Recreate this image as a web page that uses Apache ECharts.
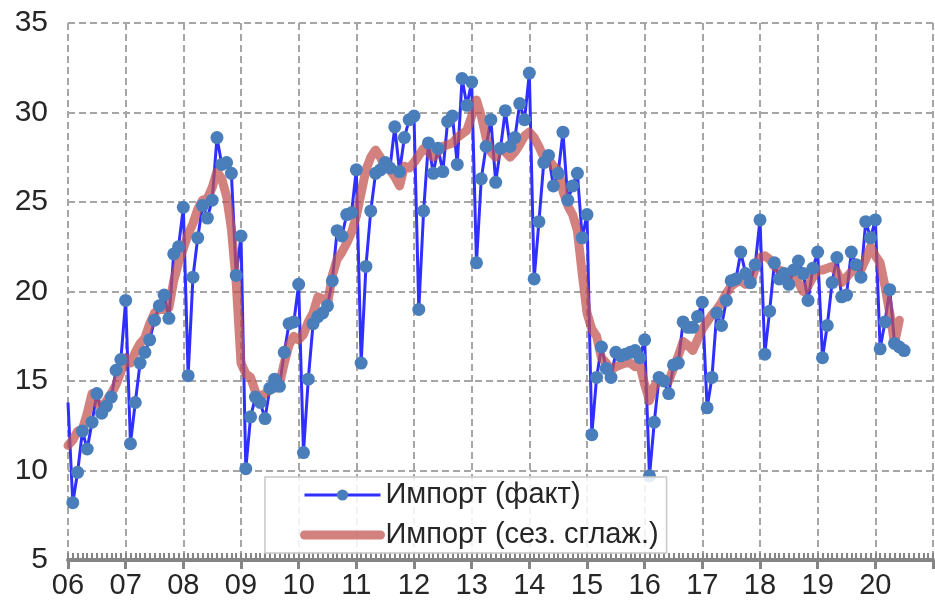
<!DOCTYPE html>
<html>
<head>
<meta charset="utf-8">
<script src="https://cdn.jsdelivr.net/npm/echarts@6/dist/echarts.min.js"></script>
<style>
  html, body { margin: 0; padding: 0; background: #fff; }
  #chart { width: 935px; height: 606px; }
</style>
</head>
<body>
<div id="chart"></div>
<script>
// подписи лет на оси X
const yearLabels = ['06', '07', '08', '09', '10', '11', '12', '13', '14', '15', '16', '17', '18', '19', '20'];
const seriesNames = ['Импорт (факт)', 'Импорт (сез. сглаж.)'];

// помесячные данные, первая точка — декабрь 2005 (конец месяца)
const factImport = [
  13.8,
  8.2, 9.9, 12.2, 11.2, 12.7, 14.3, 13.2, 13.6, 14.1, 15.6, 16.2, 19.5,      // 2006
  11.5, 13.8, 16.0, 16.6, 17.3, 18.4, 19.2, 19.8, 18.5, 22.1, 22.5, 24.7,    // 2007
  15.3, 20.8, 23.0, 24.8, 24.1, 25.1, 28.6, 27.1, 27.2, 26.6, 20.9, 23.1,    // 2008
  10.1, 13.0, 14.1, 13.8, 12.9, 14.6, 15.1, 14.7, 16.6, 18.2, 18.3, 20.4,    // 2009
  11.0, 15.1, 18.2, 18.6, 18.8, 19.2, 20.6, 23.4, 23.1, 24.3, 24.4, 26.8,    // 2010
  16.0, 21.4, 24.5, 26.6, 26.8, 27.2, 26.9, 29.2, 26.7, 28.6, 29.6, 29.8,    // 2011
  19.0, 24.5, 28.3, 26.6, 28.0, 26.7, 29.5, 29.8, 27.1, 31.9, 30.4, 31.7,    // 2012
  21.6, 26.3, 28.1, 29.6, 26.1, 28.0, 30.1, 28.1, 28.6, 30.5, 29.6, 32.2,    // 2013
  20.7, 23.9, 27.2, 27.6, 25.9, 26.6, 28.9, 25.1, 25.9, 26.6, 23.0, 24.3,    // 2014
  12.0, 15.2, 16.9, 15.7, 15.2, 16.6, 16.4, 16.5, 16.6, 16.7, 16.3, 17.3,    // 2015
  9.7, 12.7, 15.2, 15.0, 14.3, 15.9, 16.0, 18.3, 18.0, 18.0, 18.6, 19.4,     // 2016
  13.5, 15.2, 18.8, 18.1, 19.5, 20.6, 20.7, 22.2, 21.0, 20.5, 21.5, 24.0,    // 2017
  16.5, 18.9, 21.6, 20.7, 21.0, 20.4, 21.2, 21.7, 21.0, 19.5, 21.3, 22.2,    // 2018
  16.3, 18.1, 20.5, 21.9, 19.7, 19.8, 22.2, 21.5, 20.8, 23.9, 23.0, 24.0,    // 2019
  16.8, 18.3, 20.1, 17.1, 16.9, 16.7                                         // 2020
];

const smoothImport = [
  11.4,
  11.7, 12.2, 12.3, 13.2, 14.3, 13.8, 13.5, 13.9, 14.3, 14.8, 15.5, 16.3,    // 2006
  16.0, 16.6, 17.1, 17.4, 18.2, 18.8, 19.0, 19.0, 19.1, 20.6, 21.6, 22.4,    // 2007
  23.2, 23.8, 24.6, 25.1, 25.2, 25.8, 26.7, 26.3, 25.3, 23.5, 20.5, 16.0,    // 2008
  15.4, 15.2, 14.4, 14.1, 14.3, 14.5, 14.6, 14.8, 16.0, 17.0, 17.5, 17.3,    // 2009
  17.6, 18.3, 18.8, 19.7, 19.6, 19.3, 20.9, 21.8, 22.2, 22.7, 23.3, 24.2,    // 2010
  25.5, 26.8, 27.5, 27.9, 27.5, 26.9, 26.8, 26.4, 25.9, 27.0, 26.9, 27.2,    // 2011
  27.6, 28.0, 27.8, 27.5, 27.8, 28.1, 28.2, 28.3, 28.6, 28.8, 29.0, 29.8,    // 2012
  30.7, 29.8, 28.6, 27.8, 27.5, 28.1, 27.8, 27.5, 27.8, 28.2, 28.7, 28.9,    // 2013
  28.6, 28.1, 27.5, 27.4, 27.0, 26.8, 25.6, 24.8, 24.3, 23.4, 21.0, 18.8,    // 2014
  17.9, 17.5, 16.3, 16.0, 15.6, 15.8, 15.9, 16.0, 16.0, 15.8, 15.9, 14.8,    // 2015
  13.9, 14.7, 15.1, 15.1, 15.0, 15.7, 16.4, 17.2, 17.0, 16.7, 17.3, 17.9,    // 2016
  18.3, 18.7, 19.0, 19.4, 19.9, 20.3, 20.5, 20.6, 20.4, 20.4, 21.3, 21.9,    // 2017
  22.0, 21.8, 21.4, 21.2, 21.1, 21.0, 20.7, 20.5, 20.0, 20.3, 20.8, 21.2,    // 2018
  21.2, 21.3, 21.4, 21.1, 20.5, 20.8, 21.1, 21.2, 21.2, 21.8, 22.5, 22.0,    // 2019
  21.6, 20.3, 18.8, 17.1, 18.4                                               // 2020
];

const firstYear = 2006;
const lastYear = 2021;
const yMin = 5, yMax = 35, yStep = 5;

const font = '"Liberation Sans", Arial, sans-serif';
const gridLine = { color: '#a6a6a6', width: 2, type: [7, 4] };
const axisGray = '#858585';
const blue = '#2f2fff';
const marker = '#4a7ebb';
const red = 'rgba(192,80,77,0.72)';

// точка i — конец месяца: год + i/12
const toPoints = (arr) => arr.map((v, i) => [firstYear + i / 12, v]);

const chart = echarts.init(document.getElementById('chart'));

const option = {
  animation: false,
  backgroundColor: '#fff',
  grid: { left: 68, right: 2, top: 23, bottom: 46, outerBoundsMode: 'none' },
  legend: {
    orient: 'vertical',
    left: 265,
    top: 477,
    backgroundColor: 'rgba(255,255,255,0.85)',
    borderColor: '#c8c8c8',
    borderWidth: 1.5,
    borderRadius: 0,
    padding: [3, 8, 3, 35],
    itemWidth: 76,
    itemHeight: 14,
    itemGap: 10,
    textStyle: { fontSize: 29, color: '#262626', fontFamily: font, lineHeight: 30 },
    data: [
      { name: seriesNames[0], lineStyle: { width: 3, color: blue } },
      { name: seriesNames[1], itemStyle: { opacity: 0 }, lineStyle: { width: 9, color: red, cap: 'round' } }
    ]
  },
  xAxis: [
    {
      type: 'value',
      min: firstYear,
      max: lastYear,
      interval: 1,
      axisLine: { show: true, onZero: false, lineStyle: { color: axisGray, width: 4 } },
      axisTick: { show: true, length: 9, lineStyle: { color: axisGray, width: 3 } },
      axisLabel: {
        fontSize: 29,
        color: '#262626',
        fontFamily: font,
        margin: 11,
        formatter: (v) => yearLabels[Math.round(v) - firstYear] || ''
      },
      splitLine: { show: true, lineStyle: gridLine }
    },
    {
      // мелкие помесячные засечки внутрь
      type: 'value',
      min: firstYear,
      max: lastYear,
      interval: 1,
      position: 'bottom',
      axisLine: { show: false },
      axisLabel: { show: false },
      splitLine: { show: false },
      axisTick: { show: true, inside: true, length: 7, lineStyle: { color: axisGray, width: 2 } },
      minorTick: { show: true, splitNumber: 12, length: 7, lineStyle: { color: axisGray, width: 2 } }
    }
  ],
  yAxis: {
    type: 'value',
    min: yMin,
    max: yMax,
    interval: yStep,
    axisLine: { show: false },
    axisTick: { show: false },
    axisLabel: { fontSize: 30, color: '#262626', fontFamily: font, margin: 20 },
    splitLine: { show: true, lineStyle: gridLine }
  },
  series: [
    {
      name: seriesNames[0],
      type: 'line',
      data: toPoints(factImport),
      symbol: 'circle',
      symbolSize: (v, p) => (p.dataIndex === 0 ? 0 : 13),
      showAllSymbol: true,
      lineStyle: { color: blue, width: 3 },
      itemStyle: { color: marker, borderWidth: 0 },
      clip: true
    },
    {
      name: seriesNames[1],
      type: 'line',
      data: toPoints(smoothImport),
      symbol: 'none',
      showSymbol: false,
      lineStyle: { color: red, width: 9, cap: 'round', join: 'round' },
      itemStyle: { color: red },
      clip: true
    }
  ]
};

chart.setOption(option);
</script>
</body>
</html>
